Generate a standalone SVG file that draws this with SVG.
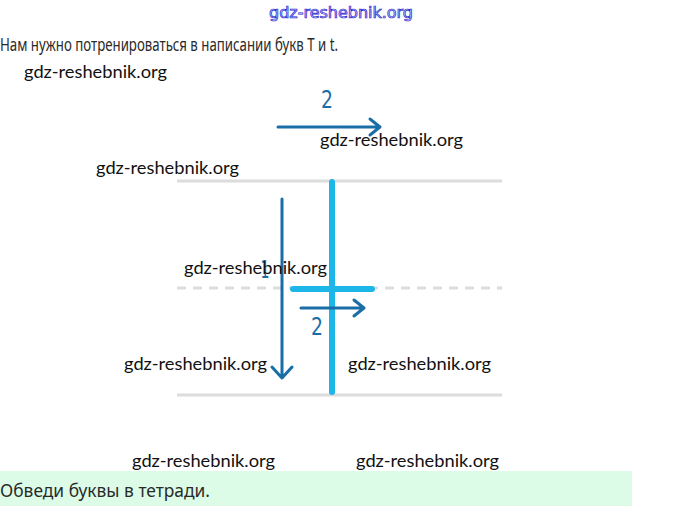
<svg xmlns="http://www.w3.org/2000/svg" width="680" height="506" viewBox="0 0 680 506">
<style>
.wm{font-family:Lato,"Liberation Sans",sans-serif;font-size:18px;fill:#111}
.txt{font-family:"Noto Sans","Liberation Sans",sans-serif;font-size:18px;fill:#2a2a2a}
.guide{stroke:#dcdcdc;stroke-width:3;fill:none}
.letter{stroke:#1db6e8;stroke-width:6;stroke-linecap:round;fill:none}
.arr{stroke:#1a6ea8;stroke-width:3;fill:none;stroke-linecap:round;stroke-linejoin:round}
.num{font-family:"DejaVu Sans Condensed","Liberation Sans",sans-serif;font-size:24px;fill:#1a6ea8}
</style>
<rect width="680" height="506" fill="#fff"/>
<text x="341" y="18" text-anchor="middle" font-family="'DejaVu Sans Condensed',sans-serif" font-size="16" fill="#d8d8ff" stroke="#2a2ad0" stroke-width="0.7" textLength="144" lengthAdjust="spacingAndGlyphs">gdz-reshebnik.org</text>
<text class="txt" x="0" y="51" textLength="338" lengthAdjust="spacingAndGlyphs">Нам нужно потренироваться в написании букв T и t.</text>
<rect x="0" y="471" width="632" height="35" fill="#dcfce8"/>
<text class="txt" x="0" y="497" textLength="210" lengthAdjust="spacingAndGlyphs">Обведи буквы в тетради.</text>
<g id="guides">
<line class="guide" x1="177" y1="181" x2="502" y2="181"/>
<line class="guide" x1="177" y1="288" x2="502" y2="288" stroke-dasharray="9,7"/>
<line class="guide" x1="177" y1="395" x2="502" y2="395"/>
</g>
<g id="letterT">
<line class="letter" x1="332" y1="182" x2="332" y2="392"/>
<line class="letter" x1="293" y1="289" x2="372" y2="289"/>
</g>
<g id="connectors">
<path class="arr" d="M282 199 V377 M272 367 L282 378 L292 367"/>
<path class="arr" d="M278 127 H379 M370 119 L380 127 L370 135"/>
<path class="arr" d="M301 308 H364 M354 300 L364 308 L354 316"/>
</g>
<g id="labels">
<text class="num" x="265" y="278" text-anchor="middle" textLength="9" lengthAdjust="spacingAndGlyphs">1</text>
<text class="num" x="327" y="108" text-anchor="middle" textLength="12" lengthAdjust="spacingAndGlyphs">2</text>
<text class="num" x="317" y="335" text-anchor="middle" textLength="12" lengthAdjust="spacingAndGlyphs">2</text>
</g>
<g id="watermarks">
<text class="wm" x="24" y="78" textLength="143" lengthAdjust="spacingAndGlyphs">gdz-reshebnik.org</text>
<text class="wm" x="320" y="146" textLength="143" lengthAdjust="spacingAndGlyphs">gdz-reshebnik.org</text>
<text class="wm" x="96" y="174" textLength="143" lengthAdjust="spacingAndGlyphs">gdz-reshebnik.org</text>
<text class="wm" x="184" y="274" textLength="143" lengthAdjust="spacingAndGlyphs">gdz-reshebnik.org</text>
<text class="wm" x="124" y="370" textLength="143" lengthAdjust="spacingAndGlyphs">gdz-reshebnik.org</text>
<text class="wm" x="348" y="370" textLength="143" lengthAdjust="spacingAndGlyphs">gdz-reshebnik.org</text>
<text class="wm" x="132" y="467" textLength="143" lengthAdjust="spacingAndGlyphs">gdz-reshebnik.org</text>
<text class="wm" x="356" y="467" textLength="143" lengthAdjust="spacingAndGlyphs">gdz-reshebnik.org</text>
</g>
</svg>
